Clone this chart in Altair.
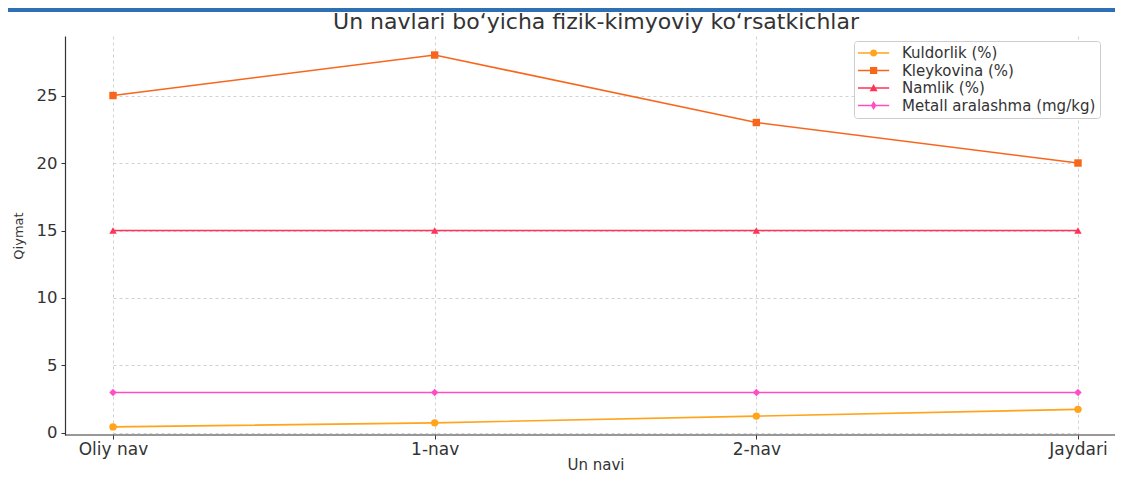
import altair as alt
import pandas as pd

categories = ["Oliy nav", "1-nav", "2-nav", "Jaydari"]
series_names = ["Kuldorlik (%)", "Kleykovina (%)", "Namlik (%)", "Metall aralashma (mg/kg)"]
kuldorlik = [0.45, 0.75, 1.25, 1.75]
kleykovina = [25, 28, 23, 20]
namlik = [15, 15, 15, 15]
metall = [3, 3, 3, 3]
colors = ["#ffa41b", "#f8661c", "#ff3358", "#ff4dc4"]
shapes = ["circle", "square", "triangle-up", "diamond"]
y_ticks = [0, 5, 10, 15, 20, 25]
title_text = "Un navlari bo‘yicha fizik-kimyoviy ko‘rsatkichlar"

rows = []
for name, vals in zip(series_names, [kuldorlik, kleykovina, namlik, metall]):
    for c, v in zip(categories, vals):
        rows.append({"navi": c, "series": name, "value": v})
df = pd.DataFrame(rows)

# legend symbols: line + marker (unit = sqrt(symbolSize)/2 px)
bar = "M-1,-0.1H2.9V0.1H-1Z "
legend_paths = [
    bar + "M1.4,0A0.45,0.45 0 1,1 0.5,0A0.45,0.45 0 1,1 1.4,0Z",
    bar + "M0.5,-0.45H1.4V0.45H0.5Z",
    bar + "M0.95,-0.5L1.45,0.4H0.45Z",
    bar + "M0.95,-0.55L1.3,0L0.95,0.55L0.6,0Z",
]

W, H = 1050, 399
FONT = "DejaVu Sans"

x_enc = alt.X("navi:N", sort=categories,
              scale=alt.Scale(type="point", range=[48, 1013], padding=0),
              axis=alt.Axis(title="Un navi", labelAngle=0, labelFontSize=17,
                            titleFontSize=15, titleFontWeight="normal",
                            labelPadding=2, titlePadding=0, domain=False,
                            grid=True, gridDash=[3, 3], gridColor="#d2d2d2",
                            tickColor="#333333", tickSize=4,
                            labelColor="#333333", titleColor="#333333"))
y_enc = alt.Y("value:Q",
              scale=alt.Scale(domain=[-0.15, 29.41], nice=False, zero=False),
              axis=alt.Axis(title="Qiymat", values=y_ticks, labelFontSize=16.5,
                            titleFontSize=13, titleFontWeight="normal",
                            labelPadding=4, titlePadding=11,
                            grid=True, gridDash=[3, 3], gridColor="#d2d2d2",
                            domainColor="#333333", domainWidth=1.2,
                            tickColor="#333333", tickSize=4,
                            labelColor="#333333", titleColor="#333333"))

color_scale = alt.Scale(domain=series_names, range=colors)

lines = alt.Chart(df).mark_line(strokeWidth=1.6).encode(
    x=x_enc, y=y_enc,
    color=alt.Color("series:N", scale=color_scale, legend=None),
)
points = alt.Chart(df).mark_point(filled=True, size=55, opacity=1).encode(
    x=x_enc, y=y_enc,
    color=alt.Color("series:N", scale=color_scale, legend=None),
    shape=alt.Shape("series:N", scale=alt.Scale(domain=series_names, range=shapes), legend=None),
)
leg = dict(title=None, orient="none", legendX=789, legendY=5,
           symbolSize=256, labelFont=FONT, labelFontSize=15, labelLimit=400,
           labelColor="#333333", labelOffset=28,
           strokeColor="#cccccc", fillColor="white",
           padding=4, cornerRadius=3, rowPadding=1.5, symbolStrokeWidth=0)
legend_layer = alt.Chart(df).transform_filter("false").mark_point(filled=True, opacity=1).encode(
    x=x_enc, y=y_enc,
    color=alt.Color("series:N", scale=color_scale, legend=alt.Legend(**leg)),
    shape=alt.Shape("series:N", scale=alt.Scale(domain=series_names, range=legend_paths),
                    legend=alt.Legend(**leg)),
)

one = pd.DataFrame({"k": [0]})
bottom_spine = alt.Chart(one).mark_rule(color="#333333", strokeWidth=1.2).encode(
    x=alt.value(0), x2=alt.value(W), y=alt.value(H)
)
top_bar = alt.Chart(one).mark_rect(color="#2e70b3").encode(
    x=alt.value(-57), x2=alt.value(1058), y=alt.value(-28), y2=alt.value(-24)
)
title_mark = alt.Chart(pd.DataFrame({"t": [title_text]})).mark_text(
    font=FONT, fontSize=22, color="#333333", align="center", baseline="alphabetic"
).encode(text="t:N", x=alt.value(531), y=alt.value(-7))

chart = alt.layer(top_bar, title_mark, lines, points, bottom_spine, legend_layer).resolve_scale(
    color="independent", shape="independent"
).properties(
    width=W, height=H,
    padding={"left": 57, "top": 28, "right": 0, "bottom": 39},
    autosize=alt.AutoSizeParams(type="none"),
).configure(font=FONT).configure_view(stroke=None)

chart.save("out.html", embed_options={"renderer": "svg", "actions": False})
